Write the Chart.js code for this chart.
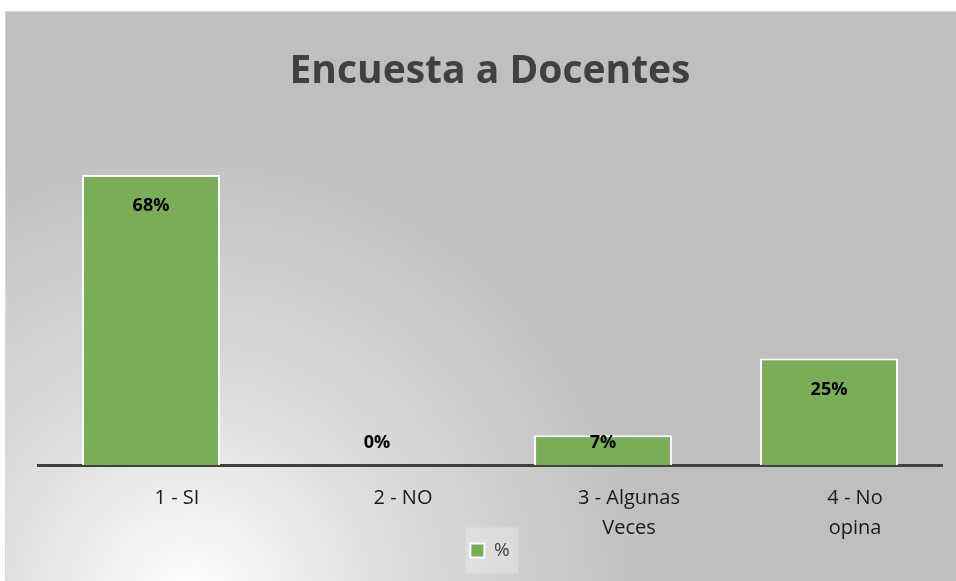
<!DOCTYPE html>
<html lang="es">
<head>
    <meta charset="UTF-8">
    <title>Encuesta a Docentes</title>
    <script src="https://cdn.jsdelivr.net/npm/chart.js"></script>
    <style>
        body { margin: 0; background: #ffffff; }
        #encuesta { display: block; }
    </style>
</head>
<body>
<canvas id="encuesta" width="956" height="581"></canvas>
<script>
    const categorias = [['1 - SI'], ['2 - NO'], ['3 - Algunas', 'Veces'], ['4 - No', 'opina']];
    const porcentajes = [68, 0, 7, 25];
    const serieNombre = '%';

    // fondo gris con degradado claro abajo a la izquierda
    const fondoPlugin = {
        id: 'fondo',
        beforeDraw(chart) {
            const ctx = chart.ctx;
            ctx.save();
            ctx.fillStyle = '#ffffff';
            ctx.fillRect(0, 0, chart.width, chart.height);
            const g = ctx.createRadialGradient(190, 600, 0, 190, 600, 470);
            g.addColorStop(0, '#ffffff');
            g.addColorStop(0.45, '#dcdcdc');
            g.addColorStop(1, '#bfbfbf');
            ctx.fillStyle = g;
            ctx.fillRect(5, 11, chart.width - 5, chart.height - 11);
            ctx.strokeStyle = '#d9d9d9';
            ctx.lineWidth = 1;
            ctx.strokeRect(5.5, 11.5, chart.width, chart.height);
            // caja de la leyenda
            const lg = chart.legend;
            if (lg && lg.legendHitBoxes.length) {
                const hb = lg.legendHitBoxes[0];
                ctx.fillStyle = 'rgba(255,255,255,0.25)';
                const w = 53, h = 46;
                ctx.fillRect(hb.left + hb.width / 2 - w / 2 + 2, hb.top + hb.height / 2 - h / 2, w, h);
            }
            ctx.restore();
        }
    };

    // etiquetas de datos en la parte alta de cada barra
    const etiquetasPlugin = {
        id: 'etiquetas',
        afterDatasetsDraw(chart) {
            const ctx = chart.ctx;
            const meta = chart.getDatasetMeta(0);
            const base = chart.scales.y.getPixelForValue(0);
            ctx.save();
            ctx.font = "bold 18px 'Open Sans'";
            ctx.fillStyle = '#000000';
            ctx.textAlign = 'center';
            ctx.textBaseline = 'middle';
            meta.data.forEach((bar, i) => {
                const y = Math.min(bar.y + 31, base - 22);
                ctx.fillText(porcentajes[i] + '%', bar.x, y);
            });
            ctx.restore();
        }
    };

    new Chart(document.getElementById('encuesta'), {
        type: 'bar',
        data: {
            labels: categorias,
            datasets: [{
                label: serieNombre,
                data: porcentajes,
                backgroundColor: '#7aad58',
                borderColor: '#ffffff',
                borderWidth: 2,
                borderSkipped: 'bottom',
                categoryPercentage: 1,
                barPercentage: 0.61
            }]
        },
        options: {
            responsive: false,
            animation: false,
            layout: { padding: { left: 38, right: 14, top: 11, bottom: 11 } },
            scales: {
                x: {
                    grid: { display: false },
                    border: { color: '#404040', width: 3 },
                    ticks: {
                        color: '#1a1a1a',
                        font: { family: 'Open Sans', size: 20, lineHeight: 1.5 },
                        padding: 10,
                        labelOffset: 26,
                        maxRotation: 0
                    },
                    // la leyenda se solapa un poco con la zona de las etiquetas
                    afterFit(scale) { scale.height -= 12; }
                },
                y: {
                    display: false,
                    min: 0,
                    max: 80
                }
            },
            plugins: {
                title: {
                    display: true,
                    text: 'Encuesta a Docentes',
                    color: '#404040',
                    font: { family: 'Open Sans', size: 39, weight: 'bold', lineHeight: 1.2 },
                    padding: { top: 37, bottom: 29 }
                },
                legend: {
                    position: 'bottom',
                    labels: {
                        color: '#404040',
                        font: { family: 'Open Sans', size: 19, lineHeight: 0.85 },
                        boxWidth: 14,
                        boxHeight: 14,
                        padding: 0
                    }
                },
                tooltip: { enabled: false }
            }
        },
        plugins: [fondoPlugin, etiquetasPlugin]
    });
</script>
</body>
</html>
